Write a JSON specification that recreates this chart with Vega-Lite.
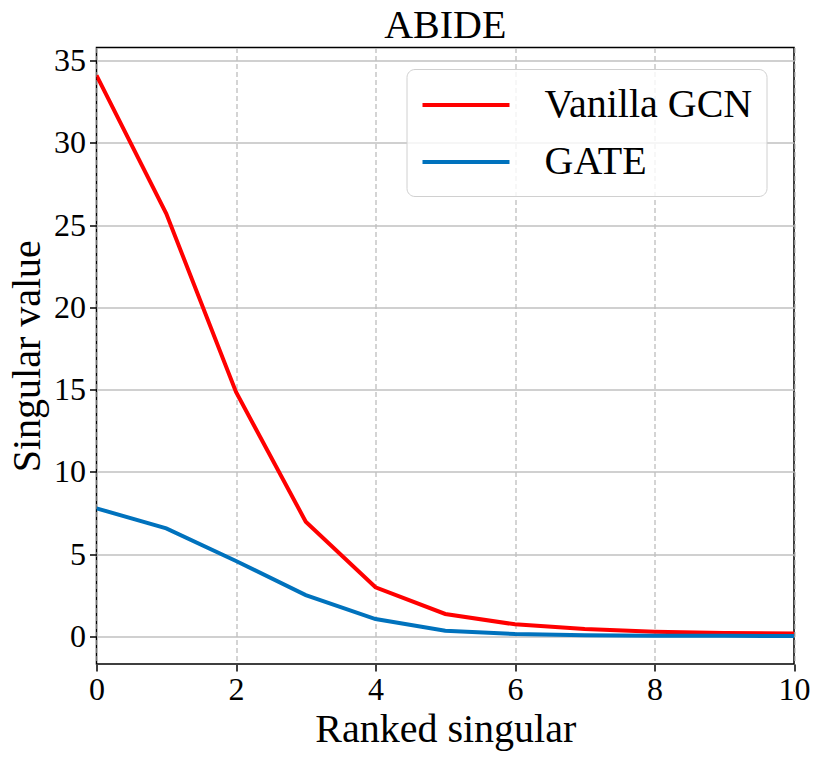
{
  "$schema": "https://vega.github.io/schema/vega-lite/v6.json",
  "autosize": {"type": "none"},
  "padding": {"left": 96.5, "top": 47.5, "right": 27, "bottom": 94},
  "width": 697.5,
  "height": 616.5,
  "background": "white",
  "title": {"text": "ABIDE", "font": "Liberation Serif, serif", "fontSize": 40, "fontWeight": "normal", "color": "black", "offset": -2},
  "config": {
    "view": {"stroke": "black", "strokeWidth": 1.5},
    "font": "Liberation Serif, serif"
  },
  "data": {"values": [
    {"rank": 0, "value": 34.1, "model": "Vanilla GCN"},
    {"rank": 1, "value": 25.7, "model": "Vanilla GCN"},
    {"rank": 2, "value": 14.85, "model": "Vanilla GCN"},
    {"rank": 3, "value": 6.97, "model": "Vanilla GCN"},
    {"rank": 4, "value": 2.98, "model": "Vanilla GCN"},
    {"rank": 5, "value": 1.36, "model": "Vanilla GCN"},
    {"rank": 6, "value": 0.73, "model": "Vanilla GCN"},
    {"rank": 7, "value": 0.44, "model": "Vanilla GCN"},
    {"rank": 8, "value": 0.28, "model": "Vanilla GCN"},
    {"rank": 9, "value": 0.21, "model": "Vanilla GCN"},
    {"rank": 10, "value": 0.17, "model": "Vanilla GCN"},
    {"rank": 0, "value": 7.78, "model": "GATE"},
    {"rank": 1, "value": 6.56, "model": "GATE"},
    {"rank": 2, "value": 4.58, "model": "GATE"},
    {"rank": 3, "value": 2.51, "model": "GATE"},
    {"rank": 4, "value": 1.05, "model": "GATE"},
    {"rank": 5, "value": 0.34, "model": "GATE"},
    {"rank": 6, "value": 0.14, "model": "GATE"},
    {"rank": 7, "value": 0.07, "model": "GATE"},
    {"rank": 8, "value": 0.04, "model": "GATE"},
    {"rank": 9, "value": 0.03, "model": "GATE"},
    {"rank": 10, "value": 0.02, "model": "GATE"}
  ]},
  "mark": {"type": "line", "strokeWidth": 4, "clip": true},
  "encoding": {
    "x": {
      "field": "rank", "type": "quantitative",
      "scale": {"domain": [0, 10], "nice": false, "zero": false},
      "axis": {
        "title": "Ranked singular", "titleFont": "Liberation Serif, serif", "titleFontSize": 40, "titleFontWeight": "normal", "titleColor": "black", "titlePadding": 4,
        "values": [0, 2, 4, 6, 8, 10], "labelFont": "Liberation Serif, serif", "labelFontSize": 32, "labelColor": "black", "labelPadding": 3,
        "tickSize": 7, "tickColor": "black", "tickWidth": 1.5, "domain": false,
        "grid": true, "gridColor": "#b8b8b8", "gridDash": [5, 3], "gridWidth": 1.2,
        "labelFlush": false
      }
    },
    "y": {
      "field": "value", "type": "quantitative",
      "scale": {"domain": [-1.68, 35.79], "nice": false, "zero": false},
      "axis": {
        "title": "Singular value", "titleFont": "Liberation Serif, serif", "titleFontSize": 40, "titleFontWeight": "normal", "titleColor": "black", "titlePadding": 6,
        "values": [0, 5, 10, 15, 20, 25, 30, 35], "labelFont": "Liberation Serif, serif", "labelFontSize": 32, "labelColor": "black", "labelPadding": 4,
        "tickSize": 7, "tickColor": "black", "tickWidth": 1.5, "domain": false,
        "grid": true, "gridColor": "#c0c0c0", "gridWidth": 1.5,
        "labelFlush": false
      }
    },
    "color": {
      "field": "model", "type": "nominal",
      "scale": {"domain": ["Vanilla GCN", "GATE"], "range": ["#ff0000", "#0072bd"]},
      "legend": {
        "title": null, "orient": "none", "legendX": 310, "legendY": 21.5,
        "symbolType": "M-1,0H3.35", "symbolSize": 1600, "symbolStrokeWidth": 4,
        "labelFont": "Liberation Serif, serif", "labelFontSize": 40, "labelColor": "black", "labelOffset": 80, "labelLimit": 500, "rowPadding": 15,
        "padding": 14, "strokeColor": "#d0d0d0", "fillColor": "rgba(255,255,255,0.8)", "cornerRadius": 8
      }
    }
  }
}
